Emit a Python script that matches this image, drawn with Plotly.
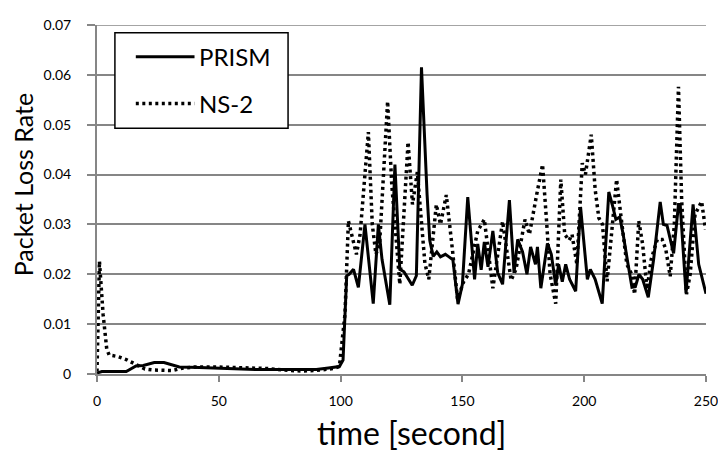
import plotly.graph_objects as go

# PRISM series (time in seconds, packet loss rate)
prism_t = [0, 2, 12, 16, 19, 23.5, 27.5, 33.8, 42, 51.5, 65, 79, 90, 95, 97, 99.5, 101,
           102.5, 103.5, 105.3, 107.3, 110, 113.4, 115.5, 117, 120.2, 122.3, 124.3, 126, 128,
           129.4, 131.1, 133.2, 135.5, 136.6, 138, 139.5, 141, 143, 144.5, 146.1, 148.2, 150,
           152.2, 155, 156.3, 157.7, 159, 160.5, 162.5, 164.5, 166.5, 169.3, 171.2, 172.7,
           174.7, 176.5, 178, 180, 180.8, 182.2, 184.9, 186.5, 188.3, 189.5, 191, 192.4, 194,
           196.5, 198.5, 201.3, 202.5, 204.5, 207.4, 210.1, 211.5, 213, 214.6, 216, 218, 219.6,
           221, 222.5, 224, 226.3, 228.5, 231.2, 232.5, 234, 236.7, 238.7, 239.4, 241.8, 244.7,
           247, 250]
prism_v = [0.0002, 0.0005, 0.0005, 0.0016, 0.0017, 0.0023, 0.0023, 0.0014, 0.0013, 0.0011,
           0.0009, 0.0009, 0.0009, 0.0012, 0.0014, 0.0015, 0.0028,
           0.0197, 0.0200, 0.0210, 0.0174, 0.0300, 0.0141, 0.0300, 0.0230, 0.0139, 0.0420,
           0.0210, 0.0205, 0.0190, 0.0178, 0.0197, 0.0615, 0.0360, 0.0268, 0.0236, 0.0245,
           0.0235, 0.0240, 0.0235, 0.0229, 0.0140, 0.0180, 0.0355, 0.0190, 0.0261, 0.0209,
           0.0265, 0.0215, 0.0287, 0.0203, 0.0180, 0.0349, 0.0203, 0.0270,
           0.0245, 0.0200, 0.0255, 0.0220, 0.0255, 0.0172, 0.0262, 0.0240, 0.0178, 0.0220,
           0.0185, 0.0220, 0.0190, 0.0166, 0.0335, 0.0190, 0.0210, 0.0190, 0.0141, 0.0365,
           0.0340, 0.0310, 0.0315, 0.0280, 0.0220, 0.0174, 0.0175, 0.0200, 0.0190, 0.0154,
           0.0230, 0.0345, 0.0300, 0.0298, 0.0242, 0.0340, 0.0340, 0.0162, 0.0340, 0.0220,
           0.0161]

# NS-2 series
ns2_t = [0, 1, 2.5, 4, 5, 8.6, 12, 15.6, 19.7, 23, 27, 31, 35.4, 40, 50, 60, 70, 79, 85, 92,
         97, 99.5, 101.8, 103.2, 105.3, 106.5, 108, 111.4, 113, 114.5, 116, 119.3, 121, 124.3,
         127.7, 129.5, 131.5, 134.6, 136.2, 139.3, 141, 143.4, 146, 148, 150.5, 152.5, 156.3,
         159, 162.5, 164.5, 166.5, 170, 172, 175.7, 177.5, 180.5, 182.9, 184.5, 186, 188.3,
         190.4, 192, 193.8, 195, 197, 199.2, 200.5, 202.9, 204.5, 206, 207.5, 209.4, 211.5,
         213.3, 215.5, 217.5, 219.5, 220.7, 222.4, 224, 225.8, 227.5, 230, 232, 233.5, 235.3,
         237, 238.7, 240, 242, 243.5, 245.5, 248.2, 249.8]
ns2_v = [0.0005, 0.0226, 0.0120, 0.0050, 0.0038, 0.0035, 0.0029, 0.0020, 0.0010, 0.0008,
         0.0007, 0.0007, 0.0012, 0.0014, 0.0014, 0.0013, 0.0011, 0.0007, 0.0006, 0.0008,
         0.0011, 0.0015, 0.0120, 0.0307, 0.0260, 0.0240, 0.0280, 0.0485, 0.0300, 0.0240,
         0.0260, 0.0547, 0.0380, 0.0180, 0.0465, 0.0340, 0.0405, 0.0222, 0.0190, 0.0340,
         0.0300, 0.0359, 0.0245, 0.0150, 0.0185, 0.0200, 0.0287, 0.0310, 0.0172, 0.0240,
         0.0306, 0.0188, 0.0210, 0.0310, 0.0280, 0.0360, 0.0420, 0.0310, 0.0200, 0.0141,
         0.0390, 0.0280, 0.0268, 0.0280, 0.0220, 0.0423, 0.0400, 0.0480, 0.0370, 0.0313,
         0.0300, 0.0186, 0.0300, 0.0390, 0.0300, 0.0220, 0.0200, 0.0160, 0.0307, 0.0260,
         0.0170, 0.0230, 0.0270, 0.0270, 0.0250, 0.0196, 0.0300, 0.0576, 0.0350, 0.0160,
         0.0200, 0.0320, 0.0346, 0.0290]

series_names = ["PRISM", "NS-2"]
x_ticks = [0, 50, 100, 150, 200, 250]
y_ticks = [0, 0.01, 0.02, 0.03, 0.04, 0.05, 0.06, 0.07]
y_tick_text = ["0", "0.01", "0.02", "0.03", "0.04", "0.05", "0.06", "0.07"]

FONT = "Lato, 'Open Sans', sans-serif"
GRID = "#868686"
DOT = "3px,3.5px"

# page body has an 8px margin; plot area (page coords): x 97..709, y 16..374
L, T, R, B = 97, 16, 709, 374
OFF = 8
PW, PH = R - L, B - T


def px(x):
    return (x - L) / PW


def py(y):
    return (B - y) / PH


fig = go.Figure()
fig.add_trace(go.Scatter(x=prism_t, y=prism_v, mode="lines", name=series_names[0],
                         line=dict(color="black", width=3)))
fig.add_trace(go.Scatter(x=ns2_t, y=ns2_v, mode="lines", name=series_names[1],
                         line=dict(color="black", width=3.5, dash=DOT)))

shapes = [
    # top gridline (plotly drops gridlines at the range edge)
    dict(type="line", xref="paper", yref="y", x0=0, x1=1, y0=0.07, y1=0.07,
         line=dict(color=GRID, width=1.5), layer="below"),
    # legend box
    dict(type="rect", xref="paper", yref="paper", x0=px(115), x1=px(289),
         y0=py(122), y1=py(24), line=dict(color="black", width=1.5),
         fillcolor="white", layer="above"),
    dict(type="line", xref="paper", yref="paper", x0=px(136), x1=px(195),
         y0=py(48.5), y1=py(48.5), line=dict(color="black", width=3), layer="above"),
    dict(type="line", xref="paper", yref="paper", x0=px(136), x1=px(195),
         y0=py(96.5), y1=py(96.5), line=dict(color="black", width=3.5, dash=DOT),
         layer="above"),
]

annotations = [
    dict(text=series_names[0], xref="paper", yref="paper", x=px(197), y=py(48.5),
         xanchor="left", yanchor="middle", showarrow=False, font=dict(size=24)),
    dict(text=series_names[1], xref="paper", yref="paper", x=px(197), y=py(96.5),
         xanchor="left", yanchor="middle", showarrow=False, font=dict(size=24)),
    dict(text="time [second]", xref="paper", yref="paper", x=px(413),
         y=py(434), xanchor="center", yanchor="middle",
         showarrow=False, font=dict(size=32)),
    dict(text="Packet Loss Rate", xref="paper", yref="paper", x=px(23),
         y=py(180), xanchor="center", yanchor="middle", textangle=-90,
         showarrow=False, font=dict(size=25)),
]

fig.update_layout(
    width=726 - OFF, height=455 - OFF,
    margin=dict(l=L - OFF, r=726 - R, t=T - OFF, b=455 - B, pad=0),
    paper_bgcolor="white", plot_bgcolor="white",
    font=dict(family=FONT, color="black", size=14),
    showlegend=False,
    xaxis=dict(range=[0, 250], tickvals=x_ticks, showgrid=False, zeroline=False,
               showline=True, linecolor=GRID, linewidth=2, ticks="outside",
               ticklen=6, tickcolor=GRID, tickwidth=1.5,
               tickfont=dict(size=14), ticklabelstandoff=7,
               ticklabeloverflow="allow"),
    yaxis=dict(range=[0, 0.07], tickvals=y_ticks, ticktext=y_tick_text,
               showgrid=True, gridcolor=GRID, gridwidth=1.5, zeroline=False,
               showline=True, linecolor=GRID, linewidth=2, ticks="outside",
               ticklen=8, tickcolor=GRID, tickwidth=1.5, tickfont=dict(size=14),
               ticklabelstandoff=13, ticklabeloverflow="allow"),
    shapes=shapes,
    annotations=annotations,
)

fig.write_html("out.html")
